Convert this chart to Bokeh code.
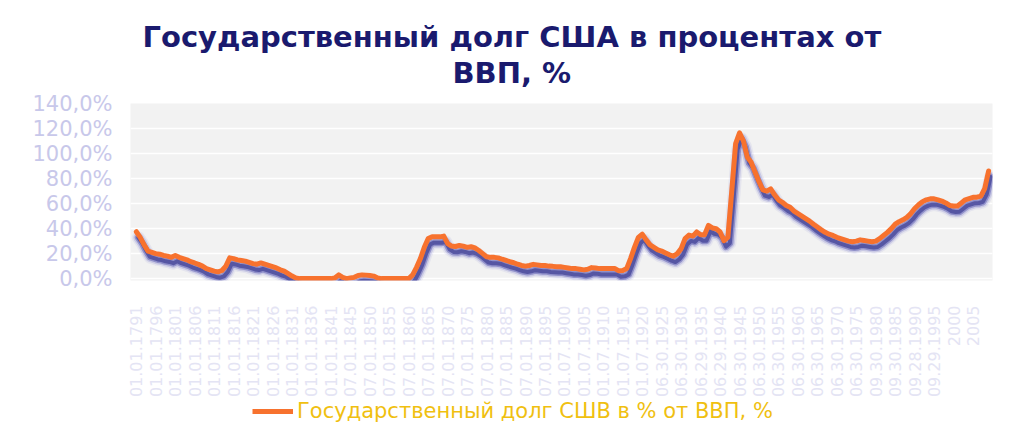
import math
from bokeh.plotting import figure
from bokeh.layouts import column
from bokeh.models import Range1d, FixedTicker, Legend, LegendItem, Title
from bokeh.embed import file_html
from bokeh.resources import INLINE

# ---------------- data ----------------
title_line1 = "Государственный долг США в процентах от"
title_line2 = "ВВП, %"
series_name = "Государственный долг СШВ в % от ВВП, %"

x_tick_labels = [
    "01.01.1791", "01.01.1796", "01.01.1801", "01.01.1806", "01.01.1811",
    "01.01.1816", "01.01.1821", "01.01.1826", "01.01.1831", "01.01.1836",
    "01.01.1841", "07.01.1845", "07.01.1850", "07.01.1855", "07.01.1860",
    "07.01.1865", "07.01.1870", "07.01.1875", "07.01.1880", "07.01.1885",
    "07.01.1890", "07.01.1895", "01.07.1900", "01.07.1905", "01.07.1910",
    "01.07.1915", "01.07.1920", "06.30.1925", "06.30.1930", "06.29.1935",
    "06.29.1940", "06.30.1945", "06.30.1950", "06.30.1955", "06.30.1960",
    "06.30.1965", "06.30.1970", "06.30.1975", "09.30.1980", "09.30.1985",
    "09.28.1990", "09.29.1995", "2000", "2005",
]
label_step = 5  # one label for every 5 categories

y_tick_values = [0, 20, 40, 60, 80, 100, 120, 140]
y_tick_labels = ["0,0%", "20,0%", "40,0%", "60,0%", "80,0%", "100,0%", "120,0%", "140,0%"]

debt_pct = [
    37.5, 33, 27, 22, 21, 20, 19.5, 18.5, 18, 17,
    18.5, 17, 16, 15, 13.5, 12.5, 11.4, 10, 8, 7,
    6, 5.4, 6.5, 10, 16.6, 16, 15, 14.5, 14, 13,
    12, 11.5, 12.5, 11.5, 10.5, 9.5, 8.5, 7, 6, 4,
    2, 0.5, 0, 0, 0, 0, 0, 0, 0, 0,
    0, 0.5, 3, 1, 0, 0.5, 1, 2.5, 3, 2.8,
    2.5, 2, 0.5, 0, 0, 0, 0, 0, 0, 0,
    0, 3, 9, 16, 25, 32, 33.4, 33.4, 33.4, 34,
    28, 26, 25.7, 26.5, 26, 25, 25.5, 24.5, 22.5, 20,
    17.5, 17, 17, 16.6, 15.5, 14.5, 13.5, 12.7, 11.5, 10.5,
    10, 10.5, 11.4, 11, 10.5, 10.5, 10, 9.8, 9.5, 9.5,
    9, 8.5, 8, 8, 7.5, 7, 7.5, 8.8, 8.5, 8,
    8, 8, 8, 8, 6.2, 6.5, 8, 16, 25, 33,
    35.5, 31, 27, 25, 23, 22, 20.5, 19, 17.9, 20,
    24, 32, 34.8, 34, 37.3, 35, 35, 42.5, 40.5, 39.9,
    37.3, 30.3, 33, 70, 108, 116.5, 110, 97, 93, 85,
    77.5, 71, 70, 71.8, 67, 63, 61, 58.5, 57, 54,
    52, 50, 48, 46, 43.5, 41.2, 39, 37, 35.5, 34.5,
    33, 32, 31, 30, 29.5, 30, 31, 30.5, 30, 29.5,
    30, 32, 34.5, 37, 40, 43.5, 45.5, 47, 49, 52,
    56, 59, 61.5, 63, 63.8, 63.8, 63, 62, 60.5, 58.5,
    58, 58.1, 60.5, 63, 64, 65, 65.1, 66, 72, 86,
]
x_idx = list(range(len(debt_pct)))

LINE_COLOR = "#F7722E"

# ---------------- main figure ----------------
X0, X1 = -1.5, 220.0
Y0, Y1 = -1.5, 140.0
W, H = 1010, 400
FL, FT = 130, 103
FRAME_W, FRAME_H = 862, 182

p = figure(width=W, height=H, x_range=Range1d(X0, X1), y_range=Range1d(Y0, Y1),
           min_border_left=FL, min_border_right=W - FL - FRAME_W,
           min_border_top=FT, min_border_bottom=H - FT - FRAME_H,
           output_backend="svg", toolbar_location=None)
p.background_fill_color = "#F2F2F2"
p.border_fill_color = "white"
p.outline_line_color = None

# shadow ranges (shifted a few pixels right and down)
dx = 2.0 * (X1 - X0) / FRAME_W
dy = 6.0 * (Y1 - Y0) / FRAME_H
p.extra_x_ranges = {"sx": Range1d(X0 - dx, X1 - dx)}
p.extra_y_ranges = {"sy": Range1d(Y0 + dy, Y1 + dy)}

for w, a, c in [(13, 0.10, "#7a7ad0"), (10, 0.20, "#5c5cbc"), (7, 0.40, "#3c3ca2"), (4, 0.55, "#262684")]:
    p.line(x_idx, debt_pct, x_range_name="sx", y_range_name="sy",
           line_width=w, line_alpha=a, line_color=c, line_join="round", line_cap="round")

p.line(x_idx, debt_pct, line_width=5, line_color=LINE_COLOR,
       line_join="round", line_cap="round")

# axes
p.yaxis.ticker = FixedTicker(ticks=y_tick_values)
p.yaxis.major_label_overrides = dict(zip(y_tick_values, y_tick_labels))
p.yaxis.axis_line_color = None
p.yaxis.major_tick_line_color = None
p.yaxis.minor_tick_line_color = None
p.yaxis.major_label_standoff = 12
p.yaxis.major_label_text_color = "#C8C8EA"
p.yaxis.major_label_text_font = "DejaVu Sans"
p.yaxis.major_label_text_font_size = "21px"

xt = [i * label_step for i in range(len(x_tick_labels))]
p.xaxis.ticker = FixedTicker(ticks=xt)
p.xaxis.major_label_overrides = dict(zip(xt, x_tick_labels))
p.xaxis.major_label_orientation = math.pi / 2
p.xaxis.axis_line_color = None
p.xaxis.major_tick_line_color = None
p.xaxis.minor_tick_line_color = None
p.xaxis.major_label_standoff = 19
p.xaxis.major_label_text_color = "#E4E4F4"
p.xaxis.major_label_text_font = "DejaVu Sans"
p.xaxis.major_label_text_font_size = "16px"

p.xgrid.visible = False
p.ygrid.grid_line_color = "white"
p.ygrid.grid_line_width = 1.5

# title: two lines; p.title is outermost, first added title is nearest the plot
tstyle = dict(text_font="DejaVu Sans", text_font_style="bold",
              text_font_size="29px", text_color="#1A1A6E", align="left")
p.title.text = title_line1
p.title.align = "left"
p.title.offset = 12
p.title.standoff = 0
p.title.text_font = "DejaVu Sans"
p.title.text_font_style = "bold"
p.title.text_font_size = "29px"
p.title.text_color = "#1A1A6E"
p.add_layout(Title(text=" ", text_font_size="1px", standoff=11), "above")
p.add_layout(Title(text=title_line2, offset=322, standoff=0, **tstyle), "above")

# ---------------- legend strip (frame aligned with the main plot's frame) ----------------
LH = 40
q = figure(width=W, height=LH, x_range=Range1d(-100, -99), y_range=Range1d(-100, -99),
           min_border=0, output_backend="svg", toolbar_location=None)
q.axis.visible = False
q.grid.visible = False
q.outline_line_color = None
q.background_fill_color = "white"
q.border_fill_color = "white"
leg_r = q.line(x_idx, debt_pct, line_width=5, line_color=LINE_COLOR)

legend = Legend(items=[LegendItem(label=series_name, renderers=[leg_r])],
                location=(122, 17), orientation="horizontal",
                padding=0, margin=0, glyph_width=41, glyph_height=20,
                label_height=20, label_standoff=4,
                label_text_font="DejaVu Sans", label_text_font_size="21px",
                label_text_color="#F0C010", border_line_color=None,
                background_fill_alpha=0)
q.add_layout(legend, "center")

layout = column(p, q, spacing=0)
open("out.html", "w").write(file_html(layout, INLINE))
